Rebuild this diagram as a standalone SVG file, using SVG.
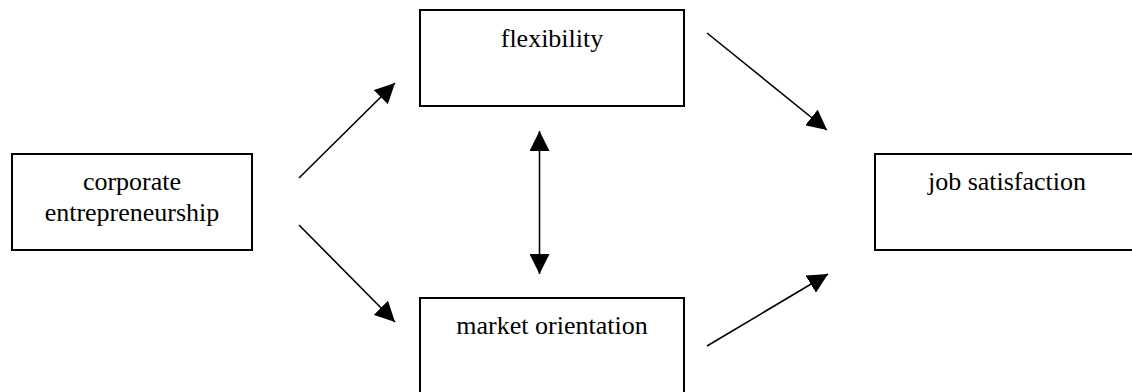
<svg xmlns="http://www.w3.org/2000/svg" width="1132" height="392" viewBox="0 0 1132 392">
<style>
.box{fill:#fff;stroke:#000;stroke-width:2}
.lbl{font-family:'Liberation Serif','Times New Roman','DejaVu Serif',serif;font-size:26px;fill:#000;text-anchor:middle}
.conn{stroke:#000;stroke-width:1.6;fill:none}
</style>
<defs>
<marker id="ah" markerUnits="userSpaceOnUse" markerWidth="20" markerHeight="20" viewBox="0 0 20 20" refX="20" refY="10" orient="auto-start-reverse">
<path d="M0,0 L20,10 L0,20 z" fill="#000"/>
</marker>
</defs>
<rect width="1132" height="392" fill="#fff"/>
<g id="corporate">
<rect class="box" x="12" y="154" width="240" height="96"/>
<text class="lbl" font-family="Liberation Serif, serif" x="132" y="190">corporate</text>
<text class="lbl" font-family="Liberation Serif, serif" x="132" y="221">entrepreneurship</text>
</g>
<g id="flexibility">
<rect class="box" x="420" y="10" width="264" height="96"/>
<text class="lbl" font-family="Liberation Serif, serif" x="552" y="47">flexibility</text>
</g>
<g id="market">
<rect class="box" x="420" y="298" width="264" height="100"/>
<text class="lbl" font-family="Liberation Serif, serif" x="552" y="334">market orientation</text>
</g>
<g id="job">
<rect class="box" x="875" y="154" width="264" height="96"/>
<text class="lbl" font-family="Liberation Serif, serif" x="1007" y="190">job satisfaction</text>
</g>
<g id="connectors">
<line class="conn" x1="299" y1="178" x2="395" y2="83" marker-end="url(#ah)"/>
<line class="conn" x1="299" y1="225" x2="395" y2="322" marker-end="url(#ah)"/>
<line class="conn" x1="707" y1="33" x2="827" y2="130" marker-end="url(#ah)"/>
<line class="conn" x1="707" y1="346" x2="828" y2="274" marker-end="url(#ah)"/>
<line class="conn" x1="539.5" y1="131" x2="539.5" y2="274" marker-start="url(#ah)" marker-end="url(#ah)"/>
</g>
</svg>
